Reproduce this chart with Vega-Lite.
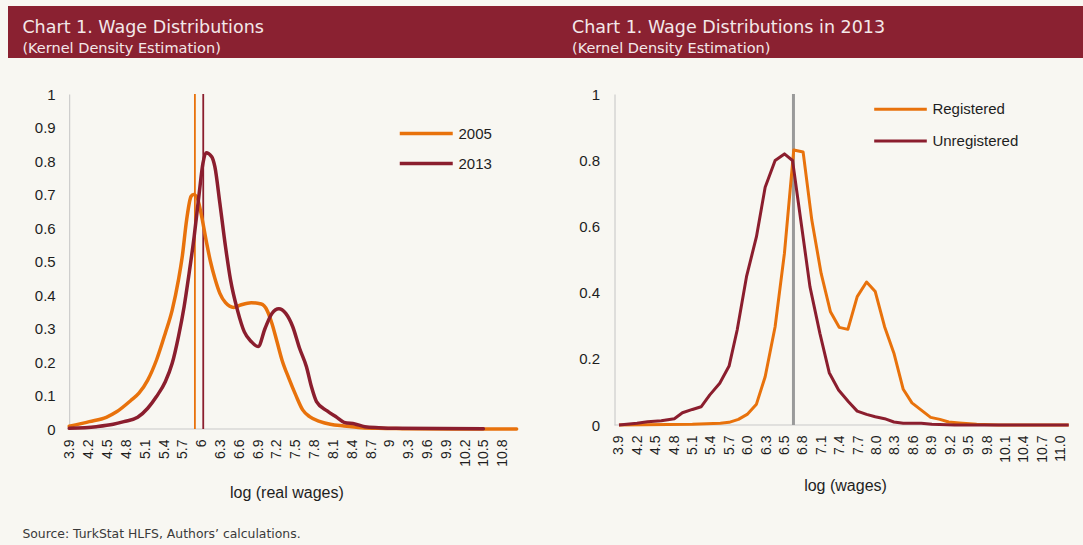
{
  "$schema": "https://vega.github.io/schema/vega-lite/v6.json",
  "background": "#f8f7f2",
  "padding": {"left": 8, "top": 6, "right": 0, "bottom": 4},
  "columns": 2,
  "spacing": {"row": 36, "column": 0},
  "align": "each",
  "bounds": "flush",
  "resolve": {"scale": {"color": "independent"}, "legend": {"color": "independent"}},
  "title": {
    "text": "Source: TurkStat HLFS, Authors’ calculations.",
    "orient": "bottom", "anchor": "start", "frame": "group", "dx": 14.4, "offset": 38,
    "baseline": "alphabetic", "font": "DejaVu Sans", "fontSize": 12.4, "fontWeight": "normal", "color": "#3a3a3a"
  },
  "datasets": {
    "left": [
      {"series": "2005", "x": 3.889, "y": 0.008}, {"series": "2005", "x": 4.21, "y": 0.022}, {"series": "2005", "x": 4.48, "y": 0.035},
      {"series": "2005", "x": 4.65, "y": 0.052}, {"series": "2005", "x": 4.87, "y": 0.085}, {"series": "2005", "x": 5.0, "y": 0.107},
      {"series": "2005", "x": 5.14, "y": 0.146}, {"series": "2005", "x": 5.28, "y": 0.206}, {"series": "2005", "x": 5.42, "y": 0.286},
      {"series": "2005", "x": 5.53, "y": 0.355}, {"series": "2005", "x": 5.63, "y": 0.445}, {"series": "2005", "x": 5.69, "y": 0.514},
      {"series": "2005", "x": 5.76, "y": 0.624}, {"series": "2005", "x": 5.83, "y": 0.694}, {"series": "2005", "x": 5.87, "y": 0.7},
      {"series": "2005", "x": 5.92, "y": 0.694}, {"series": "2005", "x": 5.99, "y": 0.644}, {"series": "2005", "x": 6.07, "y": 0.564},
      {"series": "2005", "x": 6.14, "y": 0.5}, {"series": "2005", "x": 6.21, "y": 0.45}, {"series": "2005", "x": 6.29, "y": 0.405},
      {"series": "2005", "x": 6.38, "y": 0.377}, {"series": "2005", "x": 6.51, "y": 0.363}, {"series": "2005", "x": 6.62, "y": 0.37},
      {"series": "2005", "x": 6.79, "y": 0.377}, {"series": "2005", "x": 6.95, "y": 0.373}, {"series": "2005", "x": 7.04, "y": 0.355},
      {"series": "2005", "x": 7.12, "y": 0.315}, {"series": "2005", "x": 7.2, "y": 0.261}, {"series": "2005", "x": 7.28, "y": 0.206},
      {"series": "2005", "x": 7.39, "y": 0.151}, {"series": "2005", "x": 7.5, "y": 0.101}, {"series": "2005", "x": 7.61, "y": 0.057},
      {"series": "2005", "x": 7.72, "y": 0.037}, {"series": "2005", "x": 7.89, "y": 0.022}, {"series": "2005", "x": 8.05, "y": 0.014},
      {"series": "2005", "x": 8.27, "y": 0.009}, {"series": "2005", "x": 8.55, "y": 0.004}, {"series": "2005", "x": 8.82, "y": 0.002},
      {"series": "2005", "x": 9.2, "y": 0.001}, {"series": "2005", "x": 10.0, "y": 0.0}, {"series": "2005", "x": 11.02, "y": 0.0},
      {"series": "2013", "x": 3.889, "y": 0.002}, {"series": "2013", "x": 4.32, "y": 0.007}, {"series": "2013", "x": 4.59, "y": 0.014},
      {"series": "2013", "x": 4.76, "y": 0.022}, {"series": "2013", "x": 4.98, "y": 0.035}, {"series": "2013", "x": 5.14, "y": 0.062},
      {"series": "2013", "x": 5.28, "y": 0.097}, {"series": "2013", "x": 5.42, "y": 0.141}, {"series": "2013", "x": 5.53, "y": 0.196},
      {"series": "2013", "x": 5.63, "y": 0.276}, {"series": "2013", "x": 5.72, "y": 0.365}, {"series": "2013", "x": 5.8, "y": 0.465},
      {"series": "2013", "x": 5.88, "y": 0.574}, {"series": "2013", "x": 5.96, "y": 0.703}, {"series": "2013", "x": 6.02, "y": 0.793},
      {"series": "2013", "x": 6.07, "y": 0.825}, {"series": "2013", "x": 6.16, "y": 0.813}, {"series": "2013", "x": 6.21, "y": 0.783},
      {"series": "2013", "x": 6.29, "y": 0.674}, {"series": "2013", "x": 6.38, "y": 0.544}, {"series": "2013", "x": 6.46, "y": 0.445},
      {"series": "2013", "x": 6.57, "y": 0.355}, {"series": "2013", "x": 6.68, "y": 0.29}, {"series": "2013", "x": 6.79, "y": 0.261},
      {"series": "2013", "x": 6.9, "y": 0.246}, {"series": "2013", "x": 7.01, "y": 0.3}, {"series": "2013", "x": 7.12, "y": 0.345},
      {"series": "2013", "x": 7.23, "y": 0.359}, {"series": "2013", "x": 7.34, "y": 0.345}, {"series": "2013", "x": 7.45, "y": 0.306},
      {"series": "2013", "x": 7.56, "y": 0.241}, {"series": "2013", "x": 7.67, "y": 0.186}, {"series": "2013", "x": 7.75, "y": 0.126},
      {"series": "2013", "x": 7.83, "y": 0.082}, {"series": "2013", "x": 8.0, "y": 0.054}, {"series": "2013", "x": 8.16, "y": 0.034},
      {"series": "2013", "x": 8.27, "y": 0.02}, {"series": "2013", "x": 8.44, "y": 0.015}, {"series": "2013", "x": 8.6, "y": 0.007},
      {"series": "2013", "x": 8.82, "y": 0.004}, {"series": "2013", "x": 9.1, "y": 0.002}, {"series": "2013", "x": 10.49, "y": 0.0005}
    ],
    "leftMeans": [
      {"series": "2005", "x": 5.892},
      {"series": "2013", "x": 6.025}
    ],
    "right": [
      {"series": "Registered", "x": 3.9, "y": 0.0}, {"series": "Registered", "x": 5.08, "y": 0.002}, {"series": "Registered", "x": 5.53, "y": 0.005},
      {"series": "Registered", "x": 5.67, "y": 0.008}, {"series": "Registered", "x": 5.82, "y": 0.017}, {"series": "Registered", "x": 5.96, "y": 0.032},
      {"series": "Registered", "x": 6.11, "y": 0.063}, {"series": "Registered", "x": 6.25, "y": 0.146}, {"series": "Registered", "x": 6.41, "y": 0.297},
      {"series": "Registered", "x": 6.56, "y": 0.519}, {"series": "Registered", "x": 6.71, "y": 0.831}, {"series": "Registered", "x": 6.86, "y": 0.825},
      {"series": "Registered", "x": 7.0, "y": 0.619}, {"series": "Registered", "x": 7.15, "y": 0.458}, {"series": "Registered", "x": 7.3, "y": 0.342},
      {"series": "Registered", "x": 7.44, "y": 0.295}, {"series": "Registered", "x": 7.58, "y": 0.289}, {"series": "Registered", "x": 7.73, "y": 0.388},
      {"series": "Registered", "x": 7.88, "y": 0.432}, {"series": "Registered", "x": 8.02, "y": 0.403}, {"series": "Registered", "x": 8.17, "y": 0.297},
      {"series": "Registered", "x": 8.32, "y": 0.217}, {"series": "Registered", "x": 8.47, "y": 0.108}, {"series": "Registered", "x": 8.61, "y": 0.067},
      {"series": "Registered", "x": 8.76, "y": 0.045}, {"series": "Registered", "x": 8.91, "y": 0.023}, {"series": "Registered", "x": 9.06, "y": 0.017},
      {"series": "Registered", "x": 9.2, "y": 0.009}, {"series": "Registered", "x": 9.37, "y": 0.006}, {"series": "Registered", "x": 9.65, "y": 0.002},
      {"series": "Registered", "x": 10.0, "y": 0.0}, {"series": "Registered", "x": 11.13, "y": 0.0},
      {"series": "Unregistered", "x": 3.9, "y": 0.0}, {"series": "Unregistered", "x": 4.19, "y": 0.005}, {"series": "Unregistered", "x": 4.36, "y": 0.01},
      {"series": "Unregistered", "x": 4.58, "y": 0.013}, {"series": "Unregistered", "x": 4.79, "y": 0.019}, {"series": "Unregistered", "x": 4.92, "y": 0.037},
      {"series": "Unregistered", "x": 5.08, "y": 0.047}, {"series": "Unregistered", "x": 5.22, "y": 0.055}, {"series": "Unregistered", "x": 5.36, "y": 0.091},
      {"series": "Unregistered", "x": 5.52, "y": 0.126}, {"series": "Unregistered", "x": 5.67, "y": 0.178}, {"series": "Unregistered", "x": 5.8, "y": 0.287},
      {"series": "Unregistered", "x": 5.95, "y": 0.448}, {"series": "Unregistered", "x": 6.11, "y": 0.569}, {"series": "Unregistered", "x": 6.25, "y": 0.718},
      {"series": "Unregistered", "x": 6.41, "y": 0.799}, {"series": "Unregistered", "x": 6.56, "y": 0.819}, {"series": "Unregistered", "x": 6.69, "y": 0.799},
      {"series": "Unregistered", "x": 6.83, "y": 0.609}, {"series": "Unregistered", "x": 6.97, "y": 0.418}, {"series": "Unregistered", "x": 7.13, "y": 0.277},
      {"series": "Unregistered", "x": 7.28, "y": 0.158}, {"series": "Unregistered", "x": 7.43, "y": 0.106}, {"series": "Unregistered", "x": 7.59, "y": 0.07},
      {"series": "Unregistered", "x": 7.73, "y": 0.042}, {"series": "Unregistered", "x": 7.88, "y": 0.032}, {"series": "Unregistered", "x": 8.02, "y": 0.025},
      {"series": "Unregistered", "x": 8.17, "y": 0.019}, {"series": "Unregistered", "x": 8.32, "y": 0.009}, {"series": "Unregistered", "x": 8.47, "y": 0.005},
      {"series": "Unregistered", "x": 8.76, "y": 0.005}, {"series": "Unregistered", "x": 8.93, "y": 0.002}, {"series": "Unregistered", "x": 9.3, "y": 0.0},
      {"series": "Unregistered", "x": 11.13, "y": 0.0}
    ],
    "rightMean": [{"x": 6.705}]
  },
  "concat": [
    {
      "width": 532, "height": 52,
      "view": {"fill": "#8a2131", "stroke": null},
      "data": {"values": [{}]},
      "mark": {"type": "text"},
      "encoding": {"text": {"value": ""}},
      "title": {
        "text": "Chart 1. Wage Distributions", "subtitle": "(Kernel Density Estimation)",
        "orient": "bottom", "anchor": "start", "frame": "group", "offset": -39, "dx": 14.4,
        "font": "DejaVu Sans", "fontSize": 17.5, "fontWeight": "normal", "color": "#f3e8e9",
        "subtitleFont": "DejaVu Sans", "subtitleFontSize": 14.5, "subtitleColor": "#f3e8e9", "subtitlePadding": 5
      }
    },
    {
      "width": 543, "height": 52,
      "view": {"fill": "#8a2131", "stroke": null},
      "data": {"values": [{}]},
      "mark": {"type": "text"},
      "encoding": {"text": {"value": ""}},
      "title": {
        "text": "Chart 1. Wage Distributions in 2013", "subtitle": "(Kernel Density Estimation)",
        "orient": "bottom", "anchor": "start", "frame": "group", "offset": -39, "dx": 32,
        "font": "DejaVu Sans", "fontSize": 17.5, "fontWeight": "normal", "color": "#f3e8e9",
        "subtitleFont": "DejaVu Sans", "subtitleFontSize": 14.5, "subtitleColor": "#f3e8e9", "subtitlePadding": 5
      }
    },
    {
      "width": 509, "height": 335,
      "layer": [
        {
          "data": {"values": [{}]},
          "mark": {"type": "rule", "color": "#c9c9c9", "strokeWidth": 1},
          "encoding": {
            "x": {
              "datum": 3.889, "type": "quantitative",
              "scale": {"domain": [2.913, 11.026], "nice": false, "zero": false},
              "axis": {
                "values": [3.9, 4.2, 4.5, 4.8, 5.1, 5.4, 5.7, 6, 6.3, 6.6, 6.9, 7.2, 7.5, 7.8, 8.1, 8.4, 8.7, 9, 9.3, 9.6, 9.9, 10.2, 10.5, 10.8],
                "tickCount": 100,
                "format": ".1~f", "labelAngle": -90, "labelPadding": 10, "ticks": false, "tickSize": 0, "domain": false, "grid": false,
                "labelFontSize": 14, "labelFlush": false, "labelOverlap": false, "labelBound": false,
                "title": "log (real wages)", "titleFontSize": 16, "titleFontWeight": "normal", "titleX": 278.4, "titleY": 68.3,
                "titleBaseline": "alphabetic", "titleAlign": "center"
              }
            },
            "x2": {"datum": 11.026},
            "y": {
              "datum": 0, "type": "quantitative",
              "scale": {"domain": [0, 1], "nice": false},
              "axis": {
                "values": [0, 0.1, 0.2, 0.3, 0.4, 0.5, 0.6, 0.7, 0.8, 0.9, 1], "tickCount": 100, "format": ".1~f",
                "offset": -61.2, "ticks": false, "tickSize": 0, "labelPadding": 14, "domain": true, "domainColor": "#c4c4c4", "domainWidth": 1,
                "grid": false, "title": null, "labelFontSize": 15, "labelFlush": false, "labelOverlap": false, "labelBound": false
              }
            }
          }
        },
        {
          "data": {"name": "leftMeans"},
          "mark": {"type": "rule", "strokeWidth": 1.8},
          "encoding": {
            "x": {"field": "x", "type": "quantitative", "scale": {"domain": [2.913, 11.026], "nice": false, "zero": false}},
            "color": {
              "field": "series", "type": "nominal",
              "scale": {"domain": ["2005", "2013"], "range": ["#e8720c", "#8b1e2e"]},
              "legend": {
                "title": null, "orient": "none", "legendX": 408.75, "legendY": 30, "padding": 0,
                "symbolType": "M-3.533,0H3.533", "symbolSize": 225, "symbolStrokeWidth": 3.5,
                "labelFontSize": 15, "labelOffset": 22.75, "rowPadding": 12, "labelColor": "#1e1e1e"
              }
            }
          }
        },
        {
          "data": {"name": "left"},
          "mark": {"type": "line", "strokeWidth": 3.5, "interpolate": "monotone", "strokeCap": "round", "strokeJoin": "round"},
          "encoding": {
            "x": {"field": "x", "type": "quantitative", "scale": {"domain": [2.913, 11.026], "nice": false, "zero": false}},
            "y": {"field": "y", "type": "quantitative", "scale": {"domain": [0, 1], "nice": false}},
            "color": {
              "field": "series", "type": "nominal",
              "scale": {"domain": ["2005", "2013"], "range": ["#e8720c", "#8b1e2e"]},
              "legend": {
                "title": null, "orient": "none", "legendX": 408.75, "legendY": 30, "padding": 0,
                "symbolType": "M-3.533,0H3.533", "symbolSize": 225, "symbolStrokeWidth": 3.5,
                "labelFontSize": 15, "labelOffset": 22.75, "rowPadding": 12, "labelColor": "#1e1e1e"
              }
            }
          }
        }
      ]
    },
    {
      "width": 529, "height": 331,
      "layer": [
        {
          "data": {"values": [{}]},
          "mark": {"type": "rule", "color": "#c9c9c9", "strokeWidth": 1},
          "encoding": {
            "x": {
              "datum": 3.828, "type": "quantitative",
              "scale": {"domain": [2.63, 11.135], "nice": false, "zero": false},
              "axis": {
                "values": [3.9, 4.1958, 4.4917, 4.7875, 5.0833, 5.3792, 5.675, 5.9708, 6.2667, 6.5625, 6.8583, 7.1542, 7.45, 7.7458, 8.0417, 8.3375, 8.6333, 8.9292, 9.225, 9.5208, 9.8167, 10.1125, 10.4083, 10.7042, 11.0],
                "tickCount": 100,
                "labelExpr": "['3.9','4.2','4.5','4.8','5.1','5.4','5.7','6.0','6.3','6.5','6.8','7.1','7.4','7.7','8.0','8.3','8.6','8.9','9.2','9.5','9.8','10.1','10.4','10.7','11.0'][round((datum.value-3.9)/0.2958333)]",
                "labelAngle": -90, "labelPadding": 10, "ticks": false, "tickSize": 0, "domain": false, "grid": false,
                "labelFontSize": 14, "labelFlush": false, "labelOverlap": false, "labelBound": false,
                "title": "log (wages)", "titleFontSize": 16, "titleFontWeight": "normal", "titleX": 305, "titleY": 65,
                "titleBaseline": "alphabetic", "titleAlign": "center"
              }
            },
            "x2": {"datum": 11.135},
            "y": {
              "datum": 0, "type": "quantitative",
              "scale": {"domain": [0, 1], "nice": false},
              "axis": {
                "values": [0, 0.2, 0.4, 0.6, 0.8, 1], "tickCount": 100, "format": ".1~f",
                "offset": -74.5, "ticks": false, "tickSize": 0, "labelPadding": 15, "domain": true, "domainColor": "#c4c4c4", "domainWidth": 1,
                "grid": false, "title": null, "labelFontSize": 15, "labelFlush": false, "labelOverlap": false, "labelBound": false
              }
            }
          }
        },
        {
          "data": {"name": "rightMean"},
          "mark": {"type": "rule", "strokeWidth": 3, "color": "#9a9a9a"},
          "encoding": {
            "x": {"field": "x", "type": "quantitative", "scale": {"domain": [2.63, 11.135], "nice": false, "zero": false}}
          }
        },
        {
          "data": {"name": "right"},
          "mark": {"type": "line", "strokeWidth": 3, "strokeJoin": "round"},
          "encoding": {
            "x": {"field": "x", "type": "quantitative", "scale": {"domain": [2.63, 11.135], "nice": false, "zero": false}},
            "y": {"field": "y", "type": "quantitative", "scale": {"domain": [0, 1], "nice": false}},
            "color": {
              "field": "series", "type": "nominal",
              "scale": {"domain": ["Registered", "Unregistered"], "range": ["#e8720c", "#8b1e2e"]},
              "legend": {
                "title": null, "orient": "none", "legendX": 351.5, "legendY": 6.3, "padding": 0,
                "symbolType": "M-3.507,0H3.507", "symbolSize": 225, "symbolStrokeWidth": 3,
                "labelFontSize": 15, "labelOffset": 22.9, "rowPadding": 14.7, "labelColor": "#1e1e1e"
              }
            }
          }
        }
      ]
    }
  ],
  "config": {
    "view": {"stroke": null},
    "font": "Liberation Sans",
    "axis": {"labelFont": "Liberation Sans", "titleFont": "Liberation Sans", "labelColor": "#1e1e1e", "titleColor": "#1e1e1e"},
    "legend": {"labelFont": "Liberation Sans"}
  }
}
